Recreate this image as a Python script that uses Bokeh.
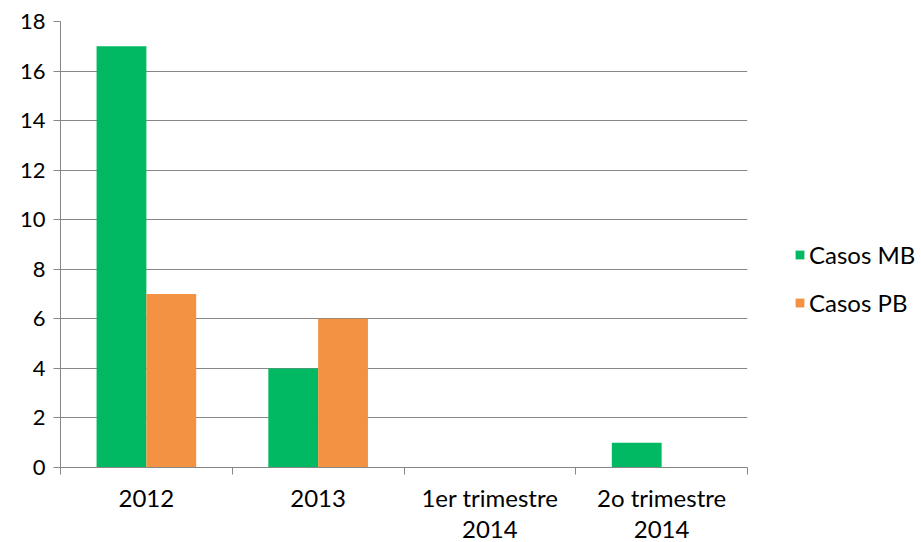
from bokeh.plotting import figure
from bokeh.models import ColumnDataSource, FixedTicker, Legend, LegendItem, Range1d
from bokeh.embed import file_html
from bokeh.resources import INLINE

categories = ["2012", "2013", "1er trimestre\n2014", "2o trimestre\n2014"]
casos_mb = [17, 4, 0, 1]
casos_pb = [7, 6, 0, 0]
y_ticks = [0, 2, 4, 6, 8, 10, 12, 14, 16, 18]

GREEN = "#00B962"
ORANGE = "#F29242"
FONT = "Lato"

n = len(categories)
centers = [i + 0.5 for i in range(n)]
bw = 0.29
src = ColumnDataSource(dict(
    x_mb=[c - bw / 2 for c in centers],
    x_pb=[c + bw / 2 for c in centers],
    mb=casos_mb,
    pb=casos_pb,
))

p = figure(frame_width=687, frame_height=446, output_backend="svg", toolbar_location=None,
           x_range=Range1d(0, n), y_range=Range1d(0, 18),
           min_border_left=60, min_border_right=174, min_border_top=21, min_border_bottom=75)
p.outline_line_color = None
p.background_fill_color = "white"
p.border_fill_color = "white"

r_mb = p.vbar(x="x_mb", top="mb", width=bw, bottom=0, source=src, fill_color=GREEN, line_color=None)
r_pb = p.vbar(x="x_pb", top="pb", width=bw, bottom=0, source=src, fill_color=ORANGE, line_color=None)

# x axis
xa = p.xaxis[0]
xa.ticker = FixedTicker(ticks=centers, minor_ticks=list(range(n + 1)))
xa.major_label_overrides = {c: lab for c, lab in zip(centers, categories)}
xa.major_tick_out = 0
xa.major_tick_in = 0
xa.minor_tick_out = 7
xa.minor_tick_in = 0
xa.minor_tick_line_color = "#868686"
xa.axis_line_color = "#868686"
xa.major_label_text_font = FONT
xa.major_label_text_font_size = "24px"
xa.major_label_text_line_height = 1.1
xa.major_label_text_color = "black"
xa.major_label_standoff = 8

# y axis
ya = p.yaxis[0]
ya.ticker = FixedTicker(ticks=y_ticks, minor_ticks=[])
ya.major_tick_out = 7
ya.major_tick_in = 0
ya.major_tick_line_color = "#868686"
ya.axis_line_color = "#868686"
ya.major_label_text_font = FONT
ya.major_label_text_font_size = "22px"
ya.major_label_text_color = "black"
ya.major_label_standoff = 8

p.xgrid.grid_line_color = None
p.ygrid.ticker = FixedTicker(ticks=y_ticks)
p.ygrid.grid_line_color = "#868686"
p.ygrid.grid_line_width = 1

legend = Legend(items=[LegendItem(label="Casos MB", renderers=[r_mb]),
                       LegendItem(label="Casos PB", renderers=[r_pb])],
                location=(47, 150))
legend.border_line_color = None
legend.background_fill_alpha = 0
legend.label_text_font = FONT
legend.label_text_font_size = "24px"
legend.label_text_color = "black"
legend.label_height = 26
legend.glyph_width = 11
legend.glyph_height = 11
legend.spacing = 19
legend.label_standoff = 4
legend.margin = 0
legend.padding = 0
p.add_layout(legend, "right")

open("out.html", "w").write(file_html(p, INLINE))
